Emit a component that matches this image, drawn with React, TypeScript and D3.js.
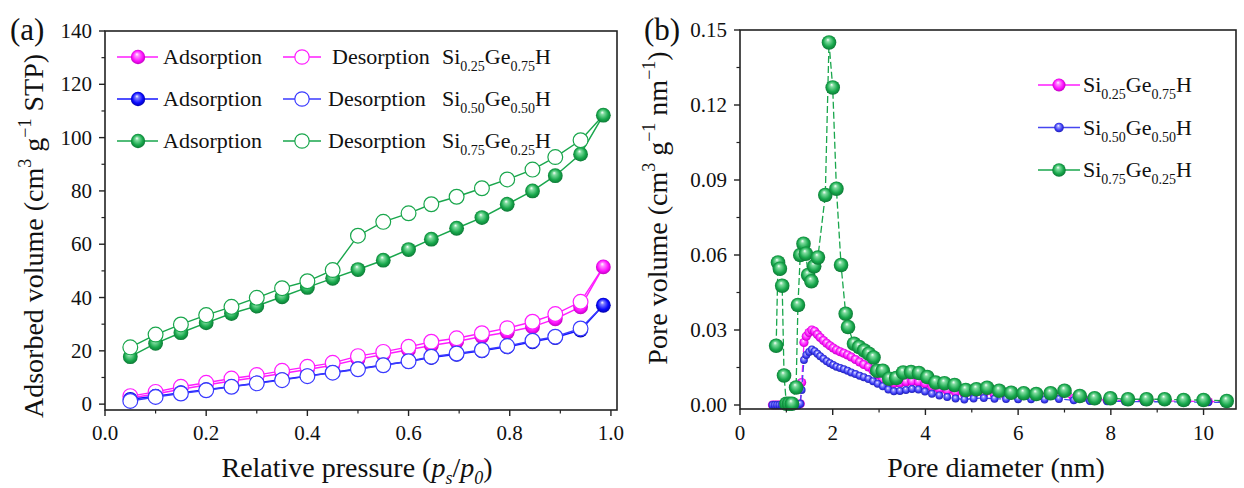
import React from 'react';
import * as d3 from 'd3';

// ---------- Panel (a): N2 isotherms ----------
const pressure = [0.05, 0.10, 0.15, 0.20, 0.25, 0.30, 0.35, 0.40, 0.45, 0.50, 0.55, 0.60, 0.645, 0.695, 0.745, 0.795, 0.845, 0.89, 0.94, 0.985];

const adsPink = [2.3, 3.8, 5.6, 7.2, 8.7, 10.0, 11.5, 13.0, 14.6, 16.8, 18.6, 20.4, 22.0, 23.5, 25.4, 27.0, 29.0, 32.0, 36.5, 51.5];
const desPink = [3.0, 4.6, 6.5, 8.0, 9.6, 10.9, 12.5, 14.0, 15.5, 18.0, 19.6, 21.5, 23.4, 24.7, 26.6, 28.5, 30.9, 33.8, 38.4];

const adsBlue = [1.8, 3.0, 4.3, 5.4, 6.6, 7.9, 9.2, 10.6, 11.9, 13.3, 14.7, 16.0, 17.5, 18.7, 20.0, 21.5, 23.4, 25.0, 27.8, 37.1];
const desBlue = [1.2, 2.7, 4.0, 5.2, 6.5, 7.8, 9.0, 10.5, 11.8, 13.1, 14.6, 16.1, 17.8, 19.0, 20.3, 21.8, 23.8, 25.3, 28.4];

const adsGreen = [17.8, 22.8, 26.8, 30.5, 34.0, 36.8, 40.3, 43.8, 47.2, 50.5, 54.0, 58.0, 61.9, 66.0, 70.0, 75.0, 80.0, 85.7, 93.8, 108.4];
const desGreen = [21.3, 26.1, 29.9, 33.4, 36.5, 39.9, 43.5, 46.1, 50.3, 63.2, 68.4, 71.6, 75.0, 77.8, 81.0, 84.3, 88.0, 92.7, 99.0];

const xTicksA = [0, 0.2, 0.4, 0.6, 0.8, 1.0];
const xMinorA = [0.1, 0.3, 0.5, 0.7, 0.9];
const yTicksA = [0, 20, 40, 60, 80, 100, 120, 140];
const yMinorA = [10, 30, 50, 70, 90, 110, 130];

// ---------- Panel (b): pore size distribution ----------
const poreDiamPB = [0.70, 0.75, 0.80, 0.85, 0.90, 0.95, 1.00, 1.05, 1.10, 1.15, 1.20, 1.25, 1.30,
  1.33, 1.38, 1.43, 1.49, 1.55, 1.61, 1.67, 1.73, 1.80, 1.87,
  1.94, 2.01, 2.08, 2.16, 2.24, 2.32, 2.40, 2.49, 2.58, 2.67,
  2.77, 2.87, 2.97, 3.08, 3.20, 3.32, 3.45, 3.58, 3.71, 3.85,
  3.99, 4.14, 4.30, 4.47, 4.65, 4.84, 5.04, 5.26, 5.49, 5.74,
  6.00, 6.28, 6.57, 6.88, 7.20, 7.55, 7.92, 8.31, 8.72, 9.16,
  9.62, 10.10, 10.50];

const porePink = [0, 0, 0, 0, 0, 0, 0, 0, 0, 0, 0, 0, 0.0005,
  0.0090, 0.0250, 0.0275, 0.0290, 0.0300, 0.0295, 0.0282, 0.0270, 0.0258, 0.0247,
  0.0237, 0.0228, 0.0220, 0.0213, 0.0207, 0.0200, 0.0192, 0.0182, 0.0172, 0.0162,
  0.0152, 0.0138, 0.0120, 0.0102, 0.0090, 0.0086, 0.0088, 0.0092, 0.0094, 0.0092,
  0.0085, 0.0072, 0.0063, 0.0057, 0.0050, 0.0043, 0.0042, 0.0044, 0.0040, 0.0036,
  0.0034, 0.0032, 0.0032, 0.0035, 0.0027, 0.0022, 0.0020, 0.0018, 0.0017, 0.0016,
  0.0015, 0.0014, 0.0013];

const poreBlue = [0, 0, 0, 0, 0, 0, 0, 0, 0, 0, 0, 0, 0.0005,
  0.0060, 0.0180, 0.0200, 0.0212, 0.0222, 0.0215, 0.0205, 0.0195, 0.0185, 0.0175,
  0.0167, 0.0160, 0.0153, 0.0148, 0.0143, 0.0137, 0.0130, 0.0124, 0.0117, 0.0111,
  0.0104, 0.0095, 0.0085, 0.0075, 0.0062, 0.0055, 0.0056, 0.0060, 0.0064, 0.0062,
  0.0054, 0.0045, 0.0038, 0.0032, 0.0026, 0.0022, 0.0026, 0.0028, 0.0025, 0.0024,
  0.0023, 0.0023, 0.0022, 0.0024, 0.0019, 0.0016, 0.0015, 0.0014, 0.0013, 0.0013,
  0.0012, 0.0011, 0.0010];

const poreDiamGreen = [0.78, 0.82, 0.86, 0.91, 0.95, 1.00, 1.06, 1.12, 1.21, 1.25,
  1.30, 1.37, 1.42, 1.47, 1.54, 1.60, 1.68, 1.84, 1.92, 2.00,
  2.08, 2.18, 2.28, 2.33, 2.46, 2.57, 2.68, 2.78, 2.88, 2.96,
  3.08, 3.22, 3.37, 3.52, 3.69, 3.86, 4.04, 4.22, 4.41, 4.63,
  4.87, 5.10, 5.33, 5.59, 5.85, 6.12, 6.39, 6.70, 7.00, 7.33,
  7.65, 7.99, 8.37, 8.77, 9.16, 9.57, 10.00, 10.50];

const poreGreen = [0.0237, 0.0570, 0.0545, 0.0477, 0.0118, 0.0005, 0.0005, 0.0005, 0.0070, 0.0400,
  0.0600, 0.0645, 0.0605, 0.0520, 0.0495, 0.0555, 0.0590, 0.0840, 0.1450, 0.1270,
  0.0865, 0.0560, 0.0365, 0.0312, 0.0245, 0.0232, 0.0218, 0.0205, 0.0190, 0.0137,
  0.0137, 0.0105, 0.0108, 0.0130, 0.0132, 0.0128, 0.0112, 0.0090, 0.0087, 0.0080,
  0.0060, 0.0063, 0.0069, 0.0057, 0.0049, 0.0047, 0.0044, 0.0047, 0.0057, 0.0036,
  0.0027, 0.0027, 0.0023, 0.0023, 0.0023, 0.0020, 0.0020, 0.0016];

const xTicksB = [0, 2, 4, 6, 8, 10];
const xMinorB = [1, 3, 5, 7, 9];
const yTicksB = [0, 0.03, 0.06, 0.09, 0.12, 0.15];
const yMinorB = [0.015, 0.045, 0.075, 0.105, 0.135];

const FONT = '"Liberation Serif", "Times New Roman", serif';
const PINK = '#ff1cff';
const BLUE = '#1414ff';
const BLUE_OPEN = '#3a3aff';
const BLUE_R = '#4646f0';
const GREEN = '#19a64c';

// scales
const xA = d3.scaleLinear().domain([0, 1.012]).range([105, 617]);
const yA = d3.scaleLinear().domain([-2.2, 140]).range([410, 31]);
const xB = d3.scaleLinear().domain([0, 10.7]).range([740, 1236]);
const yB = d3.scaleLinear().domain([-0.0016, 0.15]).range([409, 30]);

const fmtB = (v: number) => (v === 0 ? '0.00' : d3.format('.2f')(v));

function Grad({ id, c1, c2, c3 }: { id: string; c1: string; c2: string; c3: string }) {
  return (
    <radialGradient id={id} cx="0.5" cy="0.5" r="0.55" fx="0.42" fy="0.3">
      <stop offset="0" stopColor="#ffffff" />
      <stop offset="0.22" stopColor={c1} />
      <stop offset="0.65" stopColor={c2} />
      <stop offset="1" stopColor={c3} />
    </radialGradient>
  );
}

function Formula({ x, y, a, b, size = 22 }: { x: number; y: number; a: string; b: string; size?: number }) {
  const s = Math.round(size * 0.62);
  return (
    <text x={x} y={y} fontFamily={FONT} fontSize={size} fill="#111">
      <tspan>Si</tspan>
      <tspan dy={7} fontSize={s}>{a}</tspan>
      <tspan dy={-7}>Ge</tspan>
      <tspan dy={7} fontSize={s}>{b}</tspan>
      <tspan dy={-7}>H</tspan>
    </text>
  );
}

export default function App() {
  const lineA = d3.line<[number, number]>().x(d => xA(d[0])).y(d => yA(d[1]));
  const lineB = d3.line<[number, number]>().x(d => xB(d[0])).y(d => yB(d[1]));

  const isoSeries = [
    { ads: adsPink, des: desPink, color: PINK, open: PINK, grad: 'gPink' },
    { ads: adsBlue, des: desBlue, color: BLUE, open: BLUE_OPEN, grad: 'gBlue' },
    { ads: adsGreen, des: desGreen, color: GREEN, open: GREEN, grad: 'gGreen' },
  ];

  const poreSeries = [
    { xs: poreDiamPB, ys: porePink, color: PINK, grad: 'gPink', r: 4.6 },
    { xs: poreDiamPB, ys: poreBlue, color: BLUE_R, grad: 'gBlueR', r: 3.9 },
    { xs: poreDiamGreen, ys: poreGreen, color: GREEN, grad: 'gGreen', r: 7.3 },
  ];

  const legendA = [
    { color: PINK, open: PINK, grad: 'gPink', a: '0.25', b: '0.75', dx: 4 },
    { color: BLUE, open: BLUE_OPEN, grad: 'gBlue', a: '0.50', b: '0.50', dx: 0 },
    { color: GREEN, open: GREEN, grad: 'gGreen', a: '0.75', b: '0.25', dx: 0 },
  ];
  const legendB = [
    { color: PINK, grad: 'gPink', a: '0.25', b: '0.75', r: 6.5 },
    { color: BLUE_R, grad: 'gBlueR', a: '0.50', b: '0.50', r: 4.8 },
    { color: GREEN, grad: 'gGreen', a: '0.75', b: '0.25', r: 6.8 },
  ];

  return (
    <svg width={1244} height={488} style={{ position: 'absolute', left: 0, top: 0, background: '#fff' }}>
      <defs>
        <Grad id="gPink" c1="#ff8cff" c2="#ff10ff" c3="#b000b0" />
        <Grad id="gBlue" c1="#7c7cff" c2="#0a0aff" c3="#00009a" />
        <Grad id="gBlueR" c1="#a0a0ff" c2="#3c3cf5" c3="#1a1aa8" />
        <Grad id="gGreen" c1="#7fdc9f" c2="#18a84c" c3="#0a6e30" />
      </defs>

      {/* ================= Panel (a) ================= */}
      <g>
        {isoSeries.map((s, i) => {
          const adsPts = pressure.map((p, k) => [p, s.ads[k]] as [number, number]);
          const desPts = pressure.slice(0, s.des.length).map((p, k) => [p, s.des[k]] as [number, number]);
          const desLine = [...desPts, adsPts[adsPts.length - 1]];
          return (
            <g key={i}>
              <path d={lineA(adsPts) || ''} fill="none" stroke={s.color} strokeWidth={1.5} />
              <path d={lineA(desLine) || ''} fill="none" stroke={s.open} strokeWidth={1.4} />
              {adsPts.map((d, k) => (
                <circle key={'a' + k} cx={xA(d[0])} cy={yA(d[1])} r={7.4} fill={`url(#${s.grad})`} />
              ))}
              {desPts.map((d, k) => (
                <circle key={'d' + k} cx={xA(d[0])} cy={yA(d[1])} r={7.4} fill="#fff" stroke={s.open} strokeWidth={1.2} />
              ))}
            </g>
          );
        })}

        {/* frame */}
        <rect x={xA.range()[0]} y={yA.range()[1]} width={xA.range()[1] - xA.range()[0]} height={yA.range()[0] - yA.range()[1]} fill="none" stroke="#222" strokeWidth={1.6} />

        {/* y ticks */}
        {yTicksA.map(t => (
          <g key={'ya' + t}>
            <line x1={105} x2={99} y1={yA(t)} y2={yA(t)} stroke="#222" strokeWidth={1.4} />
            <text x={92} y={yA(t) + 7} textAnchor="end" fontFamily={FONT} fontSize={21} fill="#111">{t}</text>
          </g>
        ))}
        {yMinorA.map(t => (
          <line key={'yam' + t} x1={105} x2={101.5} y1={yA(t)} y2={yA(t)} stroke="#222" strokeWidth={1.2} />
        ))}
        {/* x ticks */}
        {xTicksA.map(t => (
          <g key={'xa' + t}>
            <line x1={xA(t)} x2={xA(t)} y1={410} y2={416} stroke="#222" strokeWidth={1.4} />
            <text x={xA(t)} y={440} textAnchor="middle" fontFamily={FONT} fontSize={21} fill="#111">{d3.format('.1f')(t)}</text>
          </g>
        ))}
        {xMinorA.map(t => (
          <line key={'xam' + t} x1={xA(t)} x2={xA(t)} y1={410} y2={413.5} stroke="#222" strokeWidth={1.2} />
        ))}

        {/* axis titles */}
        <text x={357} y={477} textAnchor="middle" fontFamily={FONT} fontSize={28} fill="#111">
          <tspan>Relative pressure (</tspan>
          <tspan fontStyle="italic">p</tspan>
          <tspan fontStyle="italic" fontSize={18} dy={7}>s</tspan>
          <tspan dy={-7}>/</tspan>
          <tspan fontStyle="italic">p</tspan>
          <tspan fontStyle="italic" fontSize={18} dy={7}>0</tspan>
          <tspan dy={-7}>)</tspan>
        </text>
        <text transform="translate(43,236) rotate(-90)" textAnchor="middle" fontFamily={FONT} fontSize={28} fill="#111">
          <tspan>Adsorbed volume (cm</tspan>
          <tspan fontSize={18} dy={-12}>3</tspan>
          <tspan dy={12}> g</tspan>
          <tspan fontSize={18} dy={-12}>−1</tspan>
          <tspan dy={12}> STP)</tspan>
        </text>
        <text x={10} y={40} fontFamily={FONT} fontSize={31} fill="#111">(a)</text>

        {/* legend */}
        {legendA.map((l, i) => {
          const cy = 57 + i * 42;
          return (
            <g key={'la' + i}>
              <line x1={117} x2={158} y1={cy} y2={cy} stroke={l.color} strokeWidth={1.5} />
              <circle cx={138} cy={cy} r={7.2} fill={`url(#${l.grad})`} />
              <text x={163} y={cy + 7} fontFamily={FONT} fontSize={22} fill="#111">Adsorption</text>
              <line x1={283} x2={321} y1={cy} y2={cy} stroke={l.open} strokeWidth={1.4} />
              <circle cx={302} cy={cy} r={7.2} fill="#fff" stroke={l.open} strokeWidth={1.2} />
              <text x={328 + l.dx} y={cy + 7} fontFamily={FONT} fontSize={22} fill="#111">Desorption</text>
              <Formula x={442} y={cy + 7} a={l.a} b={l.b} />
            </g>
          );
        })}
      </g>

      {/* ================= Panel (b) ================= */}
      <g>
        {poreSeries.map((s, i) => {
          const pts = s.xs.map((x, k) => [x, s.ys[k]] as [number, number]);
          return (
            <g key={'ps' + i}>
              <path d={lineB(pts) || ''} fill="none" stroke={s.color} strokeWidth={1.3} strokeDasharray="7 3" />
              {pts.map((d, k) => (
                <circle key={k} cx={xB(d[0])} cy={yB(d[1])} r={s.r} fill={`url(#${s.grad})`} />
              ))}
            </g>
          );
        })}

        <rect x={xB.range()[0]} y={yB.range()[1]} width={xB.range()[1] - xB.range()[0]} height={yB.range()[0] - yB.range()[1]} fill="none" stroke="#222" strokeWidth={1.6} />

        {yTicksB.map(t => (
          <g key={'yb' + t}>
            <line x1={740} x2={734} y1={yB(t)} y2={yB(t)} stroke="#222" strokeWidth={1.4} />
            <text x={727} y={yB(t) + 7} textAnchor="end" fontFamily={FONT} fontSize={21} fill="#111">{fmtB(t)}</text>
          </g>
        ))}
        {yMinorB.map(t => (
          <line key={'ybm' + t} x1={740} x2={736.5} y1={yB(t)} y2={yB(t)} stroke="#222" strokeWidth={1.2} />
        ))}
        {xTicksB.map(t => (
          <g key={'xb' + t}>
            <line x1={xB(t)} x2={xB(t)} y1={409} y2={415} stroke="#222" strokeWidth={1.4} />
            <text x={xB(t)} y={440} textAnchor="middle" fontFamily={FONT} fontSize={21} fill="#111">{t}</text>
          </g>
        ))}
        {xMinorB.map(t => (
          <line key={'xbm' + t} x1={xB(t)} x2={xB(t)} y1={409} y2={412.5} stroke="#222" strokeWidth={1.2} />
        ))}

        <text x={996} y={477} textAnchor="middle" fontFamily={FONT} fontSize={28} fill="#111">Pore diameter (nm)</text>
        <text transform="translate(667,208) rotate(-90)" textAnchor="middle" fontFamily={FONT} fontSize={28} fill="#111">
          <tspan>Pore volume (cm</tspan>
          <tspan fontSize={18} dy={-12}>3</tspan>
          <tspan dy={12}> g</tspan>
          <tspan fontSize={18} dy={-12}>−1</tspan>
          <tspan dy={12}> nm</tspan>
          <tspan fontSize={18} dy={-12}>−1</tspan>
          <tspan dy={12}>)</tspan>
        </text>
        <text x={644} y={40} fontFamily={FONT} fontSize={31} fill="#111">(b)</text>

        {legendB.map((l, i) => {
          const cy = 85 + i * 42.5;
          return (
            <g key={'lb' + i}>
              <line x1={1038} x2={1080} y1={cy} y2={cy} stroke={l.color} strokeWidth={1.4} />
              <circle cx={1059} cy={cy} r={l.r} fill={`url(#${l.grad})`} />
              <Formula x={1083} y={cy + 7} a={l.a} b={l.b} />
            </g>
          );
        })}
      </g>
    </svg>
  );
}
